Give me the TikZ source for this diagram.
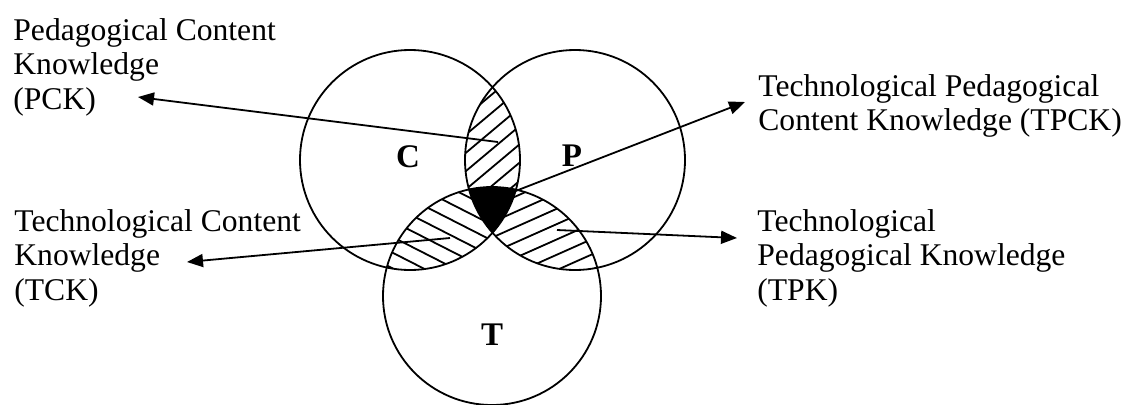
\documentclass[tikz,border=0pt]{standalone}
\usepackage{fontspec}
\setmainfont{Liberation Serif}
\usetikzlibrary{arrows.meta}
\newcommand{\lblfont}{\fontsize{15.8}{17.25}\selectfont}
\newcommand{\setfont}{\fontsize{16.5}{17.25}\selectfont\bfseries}
\tikzset{
  venn/.style={draw, line width=0.9pt},
  hatch/.style={line width=0.9pt},
  lbl/.style={anchor=north west, inner sep=0pt, align=left, font=\lblfont},
  setname/.style={inner sep=0pt, font=\setfont},
  arr/.style={-{Triangle[length=8pt, width=6.5pt]}, line width=0.9pt},
}

\begin{document}
\begin{tikzpicture}[x=0.5pt, y=0.5pt]
  \useasboundingbox (0,0) rectangle (1135,404);

  % circle centres
  \coordinate (cc) at (410,244);
  \coordinate (pc) at (575,244);
  \coordinate (tc) at (492,108);

  % C and P
  \begin{scope}
    \clip (cc) circle (110);
    \clip (pc) circle (110);
    \foreach \k in {-140,-126,...,140}
      \draw[hatch, shift={(492,200)}, rotate=40] (-160,\k) -- (160,\k);
  \end{scope}

  % C and T
  \begin{scope}
    \clip (cc) circle (110);
    \clip (tc) circle (109);
    \foreach \k in {-140,-126,...,140}
      \draw[hatch, shift={(440,190)}, rotate=-27] (-160,\k) -- (160,\k);
  \end{scope}

  % P and T
  \begin{scope}
    \clip (pc) circle (110);
    \clip (tc) circle (109);
    \foreach \k in {-140,-126,...,140}
      \draw[hatch, shift={(545,190)}, rotate=24] (-160,\k) -- (160,\k);
  \end{scope}

  % all three
  \begin{scope}
    \clip (cc) circle (110);
    \clip (pc) circle (110);
    \fill (tc) circle (109);
  \end{scope}

  \draw[venn] (cc) circle (110);
  \draw[venn] (pc) circle (110);
  \draw[venn] (tc) circle (109);

  \node[setname] (cname) at (408,247) {C};
  \node[setname] (pname) at (572,248) {P};
  \node[setname] (tname) at (492,69) {T};

  % labels
  \node[lbl] (pck) at (13,386) {Pedagogical Content\\Knowledge\\(PCK)};
  \node[lbl] (tpck) at (758,330) {Technological Pedagogical\\Content Knowledge (TPCK)};
  \node[lbl] (tck) at (14,195) {Technological Content\\Knowledge\\(TCK)};
  \node[lbl] (tpk) at (757,195) {Technological\\Pedagogical Knowledge\\(TPK)};

  % arrow ends
  \coordinate (pck-in) at (498,262);
  \coordinate (pck-tip) at (138,307);
  \coordinate (tpck-in) at (513,212);
  \coordinate (tpck-tip) at (745,302);
  \coordinate (tck-in) at (450,166);
  \coordinate (tck-tip) at (187,142);
  \coordinate (tpk-in) at (557,174);
  \coordinate (tpk-tip) at (737,166);

  \draw[arr] (pck-in) -- (pck-tip);
  \draw[arr] (tpck-in) -- (tpck-tip);
  \draw[arr] (tck-in) -- (tck-tip);
  \draw[arr] (tpk-in) -- (tpk-tip);
\end{tikzpicture}
\end{document}
